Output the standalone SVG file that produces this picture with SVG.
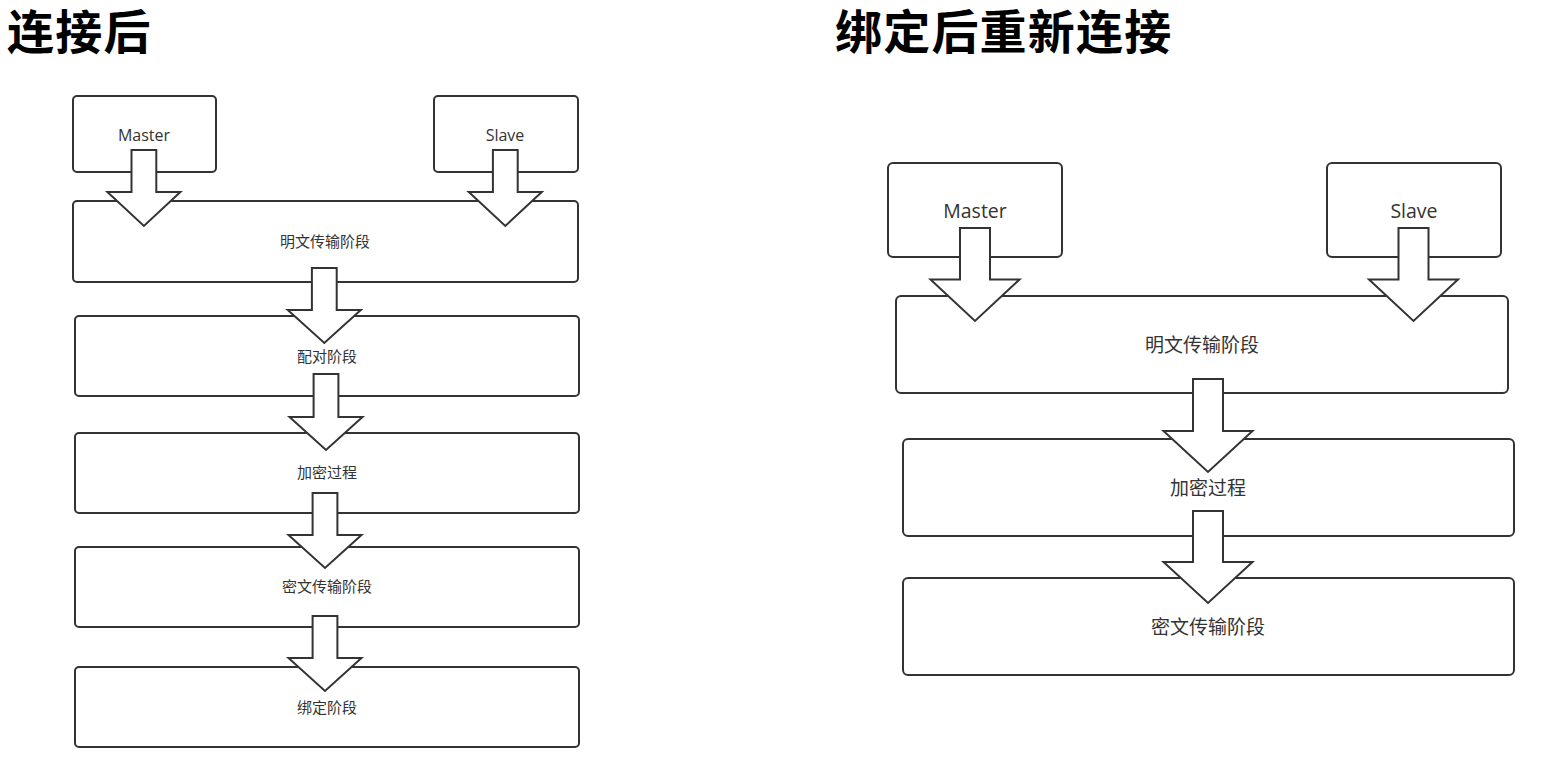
<svg xmlns="http://www.w3.org/2000/svg" width="1560" height="769" viewBox="0 0 1560 769">
<style>
.bg{fill:#ffffff}
.box{fill:#ffffff;stroke:#333333;stroke-width:2}
.arrow{fill:#ffffff;stroke:#333333;stroke-width:2;stroke-linejoin:miter}
.title{font-family:"Noto Sans CJK SC","Noto Sans",sans-serif;font-weight:700;font-size:47px;letter-spacing:1.2px;fill:#000000}
.lbl{font-family:"Noto Sans CJK SC","Noto Sans",sans-serif;fill:#333333;text-anchor:middle}
.lat{font-family:"Open Sans","Noto Sans",sans-serif;fill:#333333;text-anchor:middle}
.s{font-size:15px}
.sl{font-size:16px}
.b{font-size:19px}
.bl{font-size:19.5px}
</style>
<rect class="bg" x="0" y="0" width="1560" height="769"/>
<g id="titles">
<text class="title" x="7" y="49">连接后</text>
<text class="title" x="835" y="49">绑定后重新连接</text>
</g>
<!-- Left panel -->
<g id="L-master"><rect class="box" x="73" y="96" width="143" height="76" rx="4"/><text class="lat sl" x="144" y="141">Master</text></g>
<g id="L-slave"><rect class="box" x="434" y="96" width="144" height="76" rx="4"/><text class="lat sl" x="505" y="141">Slave</text></g>
<g id="L-plain"><rect class="box" x="73" y="201" width="505" height="81" rx="4"/><text class="lbl s" x="325" y="247">明文传输阶段</text></g>
<g id="L-pair"><rect class="box" x="75" y="316" width="504" height="80" rx="4"/><text class="lbl s" x="327" y="362">配对阶段</text></g>
<g id="L-enc"><rect class="box" x="75" y="433" width="504" height="80" rx="4"/><text class="lbl s" x="327" y="478">加密过程</text></g>
<g id="L-cipher"><rect class="box" x="75" y="547" width="504" height="80" rx="4"/><text class="lbl s" x="327" y="592">密文传输阶段</text></g>
<g id="L-bond"><rect class="box" x="75" y="667" width="504" height="80" rx="4"/><text class="lbl s" x="327" y="713">绑定阶段</text></g>
<!-- Right panel -->
<g id="R-master"><rect class="box" x="888" y="163" width="174" height="94" rx="5"/><text class="lat bl" x="975" y="218">Master</text></g>
<g id="R-slave"><rect class="box" x="1327" y="163" width="174" height="94" rx="5"/><text class="lat bl" x="1414" y="218">Slave</text></g>
<g id="R-plain"><rect class="box" x="896" y="296" width="612" height="97" rx="5"/><text class="lbl b" x="1202" y="352">明文传输阶段</text></g>
<g id="R-enc"><rect class="box" x="903" y="439" width="611" height="97" rx="5"/><text class="lbl b" x="1208" y="495">加密过程</text></g>
<g id="R-cipher"><rect class="box" x="903" y="578" width="611" height="97" rx="5"/><text class="lbl b" x="1208" y="634">密文传输阶段</text></g>
<g id="connectors">
<!-- left arrows: shaft half 12.4, head half 36.5 -->
<path class="arrow" d="M131.5,150 L156.3,150 L156.3,192 L180.4,192 L143.9,226 L107.4,192 L131.5,192 Z"/>
<path class="arrow" d="M492.9,150 L517.7,150 L517.7,192 L541.8,192 L505.3,226 L468.8,192 L492.9,192 Z"/>
<path class="arrow" d="M311.9,268 L336.7,268 L336.7,310 L360.8,310 L324.3,343 L287.8,310 L311.9,310 Z"/>
<path class="arrow" d="M313.6,374 L338.4,374 L338.4,417 L362.5,417 L326,450 L289.5,417 L313.6,417 Z"/>
<path class="arrow" d="M312.6,493 L337.4,493 L337.4,535 L361.5,535 L325,568 L288.5,535 L312.6,535 Z"/>
<path class="arrow" d="M312.6,616 L337.4,616 L337.4,658 L361.5,658 L325,691 L288.5,658 L312.6,658 Z"/>
<!-- right arrows: shaft half 15, head half 44.5 -->
<path class="arrow" d="M960,228 L990,228 L990,279.5 L1019.5,279.5 L975,321 L930.5,279.5 L960,279.5 Z"/>
<path class="arrow" d="M1398.5,228 L1428.5,228 L1428.5,279.5 L1458,279.5 L1413.5,321 L1369,279.5 L1398.5,279.5 Z"/>
<path class="arrow" d="M1193,379 L1223,379 L1223,431 L1252.5,431 L1208,472 L1163.5,431 L1193,431 Z"/>
<path class="arrow" d="M1193,511 L1223,511 L1223,562 L1252.5,562 L1208,603 L1163.5,562 L1193,562 Z"/>
</g>
</svg>
